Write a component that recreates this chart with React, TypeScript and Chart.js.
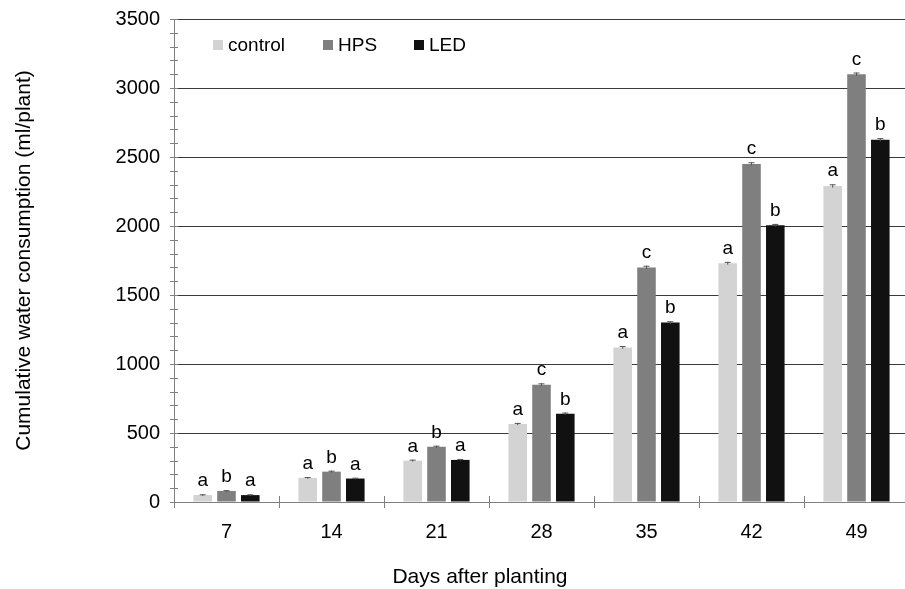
import React, { useEffect, useRef } from "react";
import { Chart, registerables } from "chart.js";

Chart.register(...registerables);

const categories = ["7", "14", "21", "28", "35", "42", "49"];
const seriesNames = ["control", "HPS", "LED"];
const controlValues = [50, 175, 300, 565, 1120, 1730, 2290];
const hpsValues = [80, 220, 400, 850, 1700, 2450, 3100];
const ledValues = [50, 170, 305, 640, 1300, 2005, 2625];
const controlErr = [6, 6, 7, 8, 10, 10, 12];
const hpsErr = [6, 7, 8, 10, 12, 12, 12];
const ledErr = [6, 6, 7, 8, 10, 10, 12];
const controlLetters = ["a", "a", "a", "a", "a", "a", "a"];
const hpsLetters = ["b", "b", "b", "c", "c", "c", "c"];
const ledLetters = ["a", "a", "a", "b", "b", "b", "b"];
const yTicks = [0, 500, 1000, 1500, 2000, 2500, 3000, 3500];
const colors = ["#d3d3d3", "#7f7f7f", "#111111"];
const FONT = "'Liberation Sans', Arial, sans-serif";

const errs = [controlErr, hpsErr, ledErr];
const letters = [controlLetters, hpsLetters, ledLetters];

const decorPlugin = {
  id: "decor",
  afterDatasetsDraw(chart: any) {
    const ctx = chart.ctx;
    const area = chart.chartArea;
    const y = chart.scales.y;
    const x = chart.scales.x;
    ctx.save();
    chart.data.datasets.forEach((ds: any, di: number) => {
      const meta = chart.getDatasetMeta(di);
      meta.data.forEach((bar: any, i: number) => {
        const v = ds.data[i];
        const e = errs[di][i];
        const yt = y.getPixelForValue(v + e);
        const yb = y.getPixelForValue(v - e);
        ctx.strokeStyle = "#555";
        ctx.lineWidth = 1;
        ctx.beginPath();
        ctx.moveTo(bar.x, yt);
        ctx.lineTo(bar.x, yb);
        ctx.moveTo(bar.x - 3, yt + 0.5);
        ctx.lineTo(bar.x + 3, yt + 0.5);
        ctx.stroke();
        ctx.fillStyle = "#000";
        ctx.font = `19px ${FONT}`;
        ctx.textAlign = "center";
        ctx.textBaseline = "alphabetic";
        ctx.fillText(letters[di][i], bar.x, yt - 8);
      });
    });
    ctx.strokeStyle = "#808080";
    ctx.lineWidth = 1;
    ctx.beginPath();
    for (let v = 0; v <= 3500; v += 100) {
      const py = Math.round(y.getPixelForValue(v)) + 0.5;
      ctx.moveTo(area.left - 4, py);
      ctx.lineTo(area.left + 4, py);
    }
    for (let i = 0; i <= categories.length; i++) {
      const px = Math.round(x.getPixelForValue(i - 0.5)) + 0.5;
      ctx.moveTo(px, area.bottom - 6);
      ctx.lineTo(px, area.bottom + 6);
    }
    ctx.stroke();
    const lx = [213, 323, 414];
    ctx.font = `19px ${FONT}`;
    ctx.textAlign = "left";
    ctx.textBaseline = "middle";
    seriesNames.forEach((n, i) => {
      ctx.fillStyle = colors[i];
      ctx.fillRect(lx[i], 40, 10, 10);
      ctx.fillStyle = "#000";
      ctx.fillText(n, lx[i] + 15, 46);
    });
    ctx.font = `21px ${FONT}`;
    ctx.fillStyle = "#000";
    ctx.textAlign = "center";
    ctx.textBaseline = "middle";
    ctx.fillText("Days after planting", 480, 577);
    ctx.translate(24, (area.top + area.bottom) / 2);
    ctx.rotate(-Math.PI / 2);
    ctx.fillText("Cumulative water consumption (ml/plant)", 0, 0);
    ctx.restore();
  },
};

export default function App() {
  const ref = useRef<HTMLCanvasElement | null>(null);
  useEffect(() => {
    if (!ref.current) return;
    const chart = new Chart(ref.current, {
      type: "bar",
      data: {
        labels: categories,
        datasets: [
          { label: seriesNames[0], data: controlValues, backgroundColor: colors[0] },
          { label: seriesNames[1], data: hpsValues, backgroundColor: colors[1] },
          { label: seriesNames[2], data: ledValues, backgroundColor: colors[2] },
        ],
      },
      options: {
        animation: false,
        responsive: false,
        maintainAspectRatio: false,
        layout: { padding: { left: 0, right: 11, top: 19, bottom: 0 } },
        datasets: { bar: { categoryPercentage: 0.68, barPercentage: 0.78 } },
        plugins: { legend: { display: false }, tooltip: { enabled: false } },
        scales: {
          x: {
            grid: { display: false, drawTicks: false },
            border: { display: true, color: "#808080", width: 1 },
            ticks: { color: "#000", font: { family: FONT, size: 20 }, padding: 18 },
            afterFit: (s: any) => {
              s.height = 87;
              s.paddingLeft = 0;
              s.paddingRight = 0;
            },
          },
          y: {
            min: 0,
            max: 3500,
            afterBuildTicks: (s: any) => { s.ticks = yTicks.map((v) => ({ value: v })); },
            grid: {
              drawTicks: false,
              color: (c: any) => (c.tick && c.tick.value === 0 ? "rgba(0,0,0,0)" : "#3a3a3a"),
              lineWidth: 1,
            },
            border: { display: true, color: "#808080", width: 1 },
            ticks: {
              color: "#000",
              font: { family: FONT, size: 20 },
              padding: 14,
              callback: (v: any) => String(v),
            },
            afterFit: (s: any) => {
              s.width = 174;
              s.paddingTop = 0;
              s.paddingBottom = 0;
            },
          },
        },
      },
      plugins: [decorPlugin],
    });
    return () => chart.destroy();
  }, []);
  return (
    <div style={{ position: "fixed", left: 0, top: 0, width: 905, height: 589, overflow: "hidden", background: "#fff" }}>
      <canvas ref={ref} width={920} height={589} style={{ display: "block" }} />
    </div>
  );
}
